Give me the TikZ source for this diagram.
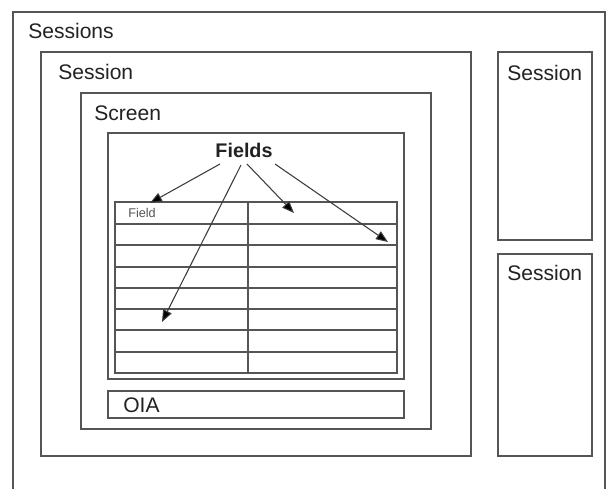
\documentclass[tikz,border=0pt]{standalone}
\usepackage{fontspec}
\setmainfont{Liberation Sans}
\usetikzlibrary{arrows.meta}
\definecolor{ln}{HTML}{555555}
\definecolor{tx}{HTML}{222222}
\tikzset{
  box/.style={draw=ln, line width=1.1pt},
  rowline/.style={draw=ln, line width=1pt},
  lbl/.style={inner sep=0pt, anchor=base west, text=tx, font=\fontsize{15.8}{19}\selectfont},
  arr/.style={draw=ln!70!black, line width=0.8pt, -{Triangle[length=9pt,width=7pt,fill=black]}}
}
\begin{document}
\begin{tikzpicture}[x=0.75pt,y=-0.75pt]
\useasboundingbox (0,0) rectangle (610,489);
% outer Sessions box (open at bottom)
\draw[box] (13,489) -- (13,12) -- (605,12) -- (605,489);
% Session (big)
\draw[box] (41,52) rectangle (471,456);
% right Session boxes
\draw[box] (498,52) rectangle (592,240);
\draw[box] (498,254) rectangle (592,456);
% Screen
\draw[box] (81,93) rectangle (431,429);
% Fields container
\draw[box] (108,133) rectangle (404,379);
% OIA
\draw[box] (108,391) rectangle (404,418);
% table
\draw[rowline] (115,202) rectangle (397,373);
\draw[rowline] (248,202) -- (248,373);
\foreach \y in {224,245,267,288,309,330,352} \draw[rowline] (115,\y) -- (397,\y);
% labels
\node[lbl] (sessions) at (28,38) {Sessions};
\node[lbl] (session) at (58,79) {Session};
\node[lbl] (sessionA) at (507,80) {Session};
\node[lbl] (sessionB) at (507,280) {Session};
\node[lbl] (screen) at (94,120) {Screen};
\node[lbl] (oia) at (123,412) {OIA};
\node[inner sep=0pt, anchor=base, text=tx, font=\fontsize{14.8}{17}\selectfont\bfseries] (fields) at (244,157) {Fields};
\node[inner sep=0pt, anchor=base west, text=ln, font=\fontsize{9.5}{11}\selectfont] (field) at (128,217) {Field};
% arrow ends
\coordinate (s1) at (220,164);
\coordinate (s2) at (241,165);
\coordinate (s3) at (247,164);
\coordinate (s4) at (275,164);
\coordinate (e1) at (150,203);
\coordinate (e2) at (162,322);
\coordinate (e3) at (294,213);
\coordinate (e4) at (388,242);
\draw[arr] (s1) -- (e1);
\draw[arr] (s2) -- (e2);
\draw[arr] (s3) -- (e3);
\draw[arr] (s4) -- (e4);
\end{tikzpicture}
\end{document}
